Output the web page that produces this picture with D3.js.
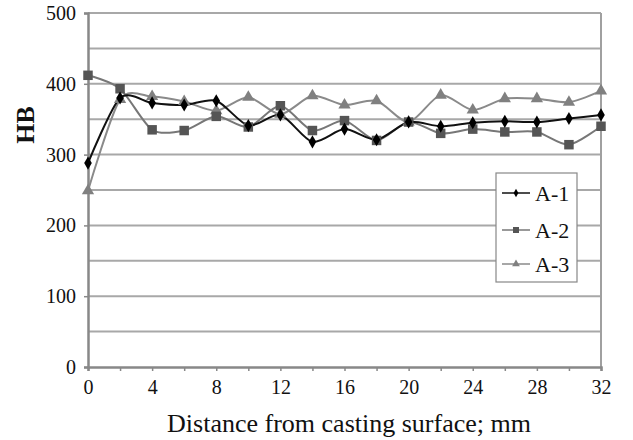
<!DOCTYPE html>
<html><head><meta charset="utf-8">
<script src="https://cdn.jsdelivr.net/npm/d3@7"></script>
<style>body{margin:0;background:#fff}</style>
</head><body>
<svg id="c" width="633" height="440"></svg>
<script>
const distances = [0,2,4,6,8,10,12,14,16,18,20,22,24,26,28,30,32];
const seriesA1 = [288,380,373,370,376,341,356,318,336,321,346,340,345,347,346,351,356];
const seriesA2 = [412,393,335,334,354,339,369,334,348,320,346,330,336,332,332,314,340];
const seriesA3 = [249,378,382,375,362,381,357,383,370,376,346,384,363,379,379,374,390];
const seriesNames = ["A-1","A-2","A-3"];
const xTicks = [0,4,8,12,16,20,24,28,32];
const yTicks = [0,100,200,300,400,500];

const FF = '"Liberation Serif"';
const svg = d3.select("#c");
const m = {l:88, r:601, t:13, b:367};
const x = d3.scaleLinear().domain([0,32]).range([m.l,m.r]);
const y = d3.scaleLinear().domain([0,500]).range([m.b,m.t]);

// grid
svg.append("g").selectAll("line").data(d3.range(50,501,50)).join("line")
  .attr("x1",m.l).attr("x2",m.r).attr("y1",d=>y(d)).attr("y2",d=>y(d))
  .attr("stroke","#a8a8a8").attr("stroke-width",2);
// right border
svg.append("line").attr("x1",m.r).attr("x2",m.r).attr("y1",m.t).attr("y2",m.b)
  .attr("stroke","#a0a0a0").attr("stroke-width",2);

// axes
const ax = svg.append("g").attr("transform",`translate(0,${m.b})`)
  .call(d3.axisBottom(x).tickValues(d3.range(0,33,2)).tickSize(4).tickFormat(d=>xTicks.includes(d)?d:""));
ax.select(".domain").attr("stroke","#888").attr("stroke-width",2.5);
ax.selectAll(".tick line").attr("stroke","#888").attr("stroke-width",1.5);
ax.selectAll(".tick text").style("font-family",FF).style("font-size","20px").attr("fill","#111").attr("dy","1.0em");

const ay = svg.append("g").attr("transform",`translate(${m.l},0)`)
  .call(d3.axisLeft(y).tickValues(yTicks).tickSize(4).tickPadding(8));
ay.select(".domain").attr("stroke","#888").attr("stroke-width",2.5);
ay.selectAll(".tick line").attr("stroke","#888").attr("stroke-width",1.5);
ay.selectAll(".tick text").style("font-family",FF).style("font-size","20px").attr("fill","#111");

svg.append("text").attr("x",349).attr("y",432).attr("text-anchor","middle")
  .style("font-family",FF).style("font-size","26px").attr("fill","#111")
  .text("Distance from casting surface; mm");
svg.append("text").attr("transform","translate(34,125) rotate(-90)").attr("text-anchor","middle")
  .style("font-family",FF).style("font-size","26px").style("font-weight","bold").attr("fill","#111")
  .text("HB");

const series = [
  {name:seriesNames[0], vals:seriesA1, line:"#111", fill:"#000", shape:d3.symbolDiamond, size:50},
  {name:seriesNames[1], vals:seriesA2, line:"#777", fill:"#555", shape:d3.symbolSquare, size:90},
  {name:seriesNames[2], vals:seriesA3, line:"#8a8a8a", fill:"#808080", shape:d3.symbolTriangle, size:65}
];
const line = d3.line().x((d,i)=>x(distances[i])).y(d=>y(d)).curve(d3.curveCardinal.tension(0.2));
[2,1,0].forEach(k=>{
  const s = series[k];
  svg.append("path").attr("d",line(s.vals)).attr("fill","none").attr("stroke",s.line).attr("stroke-width",2);
});
[2,1,0].forEach(k=>{
  const s = series[k];
  svg.append("g").selectAll("path").data(s.vals).join("path")
    .attr("transform",(d,i)=>`translate(${x(distances[i])},${y(d)})`)
    .attr("d",d3.symbol().type(s.shape).size(s.size)).attr("fill",s.fill);
});

// legend
const lg = svg.append("g");
lg.append("rect").attr("x",496).attr("y",173).attr("width",81).attr("height",109)
  .attr("fill","#fff").attr("stroke","#888").attr("stroke-width",1.2);
const ly = [193,230,264];
series.forEach((s,i)=>{
  lg.append("line").attr("x1",502).attr("x2",530).attr("y1",ly[i]).attr("y2",ly[i])
    .attr("stroke",s.line).attr("stroke-width",1.5);
  lg.append("path").attr("transform",`translate(516,${ly[i]})`)
    .attr("d",d3.symbol().type(s.shape).size(s.size*0.4)).attr("fill",s.fill);
  lg.append("text").attr("x",535).attr("y",ly[i]).attr("dy","0.35em")
    .style("font-family",FF).style("font-size","22px").attr("fill","#111").text(s.name);
});
</script>
</body></html>
